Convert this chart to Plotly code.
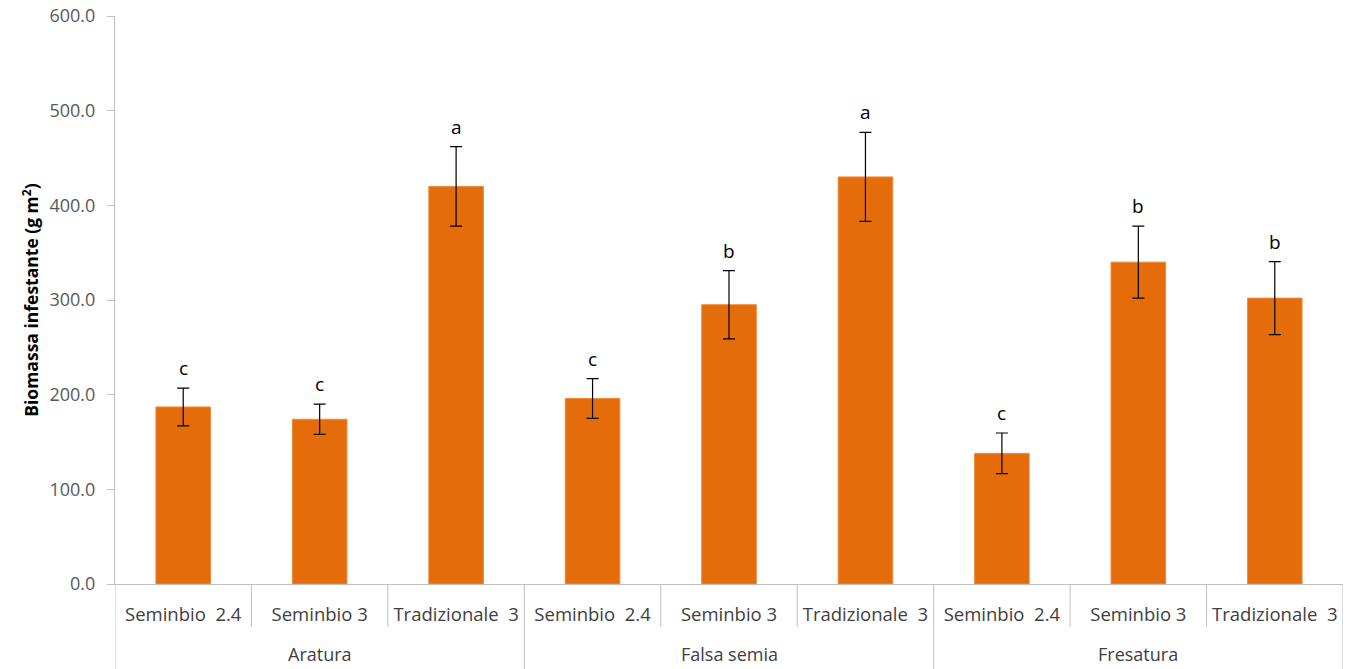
import plotly.graph_objects as go

group_names = ["Aratura", "Falsa semia", "Fresatura"]
sub_names = ["Seminbio  2.4", "Seminbio 3", "Tradizionale  3"]
groups = [g for g in group_names for _ in sub_names]
subs = sub_names * len(group_names)
values = [187, 174, 420, 196, 295, 430, 138, 340, 302]
errors = [20, 16, 42, 21, 36, 47, 21.5, 38, 38.5]
letters = ["c", "c", "a", "c", "b", "a", "c", "b", "b"]

FONT = "Open Sans"
AXIS_GRAY = "#BFBFBF"
W, H = 1353, 669
M = dict(l=115, r=10, t=16, b=85)
plot_h = H - M["t"] - M["b"]

xs = list(range(len(values)))

fig = go.Figure()
fig.add_trace(go.Bar(
    x=xs, y=values,
    marker=dict(color="#E46C0A", line=dict(color="#F08A3A", width=1)),
    error_y=dict(type="data", array=errors, color="#000000", thickness=1.2, width=6),
    width=0.4,
))
for x, v, e, l in zip(xs, values, errors, letters):
    fig.add_annotation(x=x, y=v + e, text=l, showarrow=False,
                       yanchor="bottom", yshift=5,
                       font=dict(family=FONT, size=19, color="#000000"))

# category dividers below the axis
inner_depth = -43 / plot_h
outer_depth = -85 / plot_h
n_sub = len(sub_names)
for i in range(len(values) + 1):
    is_group = (i % n_sub == 0)
    fig.add_shape(type="line", xref="x", yref="paper",
                  x0=i - 0.5, x1=i - 0.5, y0=0,
                  y1=outer_depth if is_group else inner_depth,
                  line=dict(color=AXIS_GRAY, width=1))

# group labels
for gi, g in enumerate(group_names):
    idx = [i for i, gg in enumerate(groups) if gg == g]
    fig.add_annotation(x=sum(idx) / len(idx), y=-70 / plot_h, xref="x", yref="paper",
                       text=g, showarrow=False, yanchor="middle",
                       font=dict(family=FONT, size=18, color="#404040"))

fig.update_layout(
    width=W, height=H,
    margin=M,
    plot_bgcolor="white", paper_bgcolor="white",
    showlegend=False,
    font=dict(family=FONT, size=18, color="#404040"),
    yaxis=dict(
        range=[0, 600], dtick=100, tickformat=".1f",
        showgrid=False, zeroline=False, automargin=False,
        showline=True, linecolor=AXIS_GRAY, linewidth=1,
        ticks="outside", ticklen=7, tickcolor=AXIS_GRAY,
        ticklabelstandoff=8,
        tickfont=dict(size=18, color="#595959"),
        title=dict(text="<b>Biomassa infestante (g m<sup>2</sup>)</b>",
                   font=dict(size=17.5, color="#000000"), standoff=6),
    ),
    xaxis=dict(
        range=[-0.5, len(values) - 0.5],
        tickmode="array", tickvals=xs, ticktext=subs,
        showgrid=False, zeroline=False, automargin=False,
        showline=True, linecolor=AXIS_GRAY, linewidth=1,
        ticks="", ticklabelstandoff=14,
        tickfont=dict(size=18.5, color="#404040"),
    ),
)

fig.write_html("out.html", config={"displayModeBar": False},
               post_script="document.body.style.margin='0';document.body.style.overflow='hidden';")
